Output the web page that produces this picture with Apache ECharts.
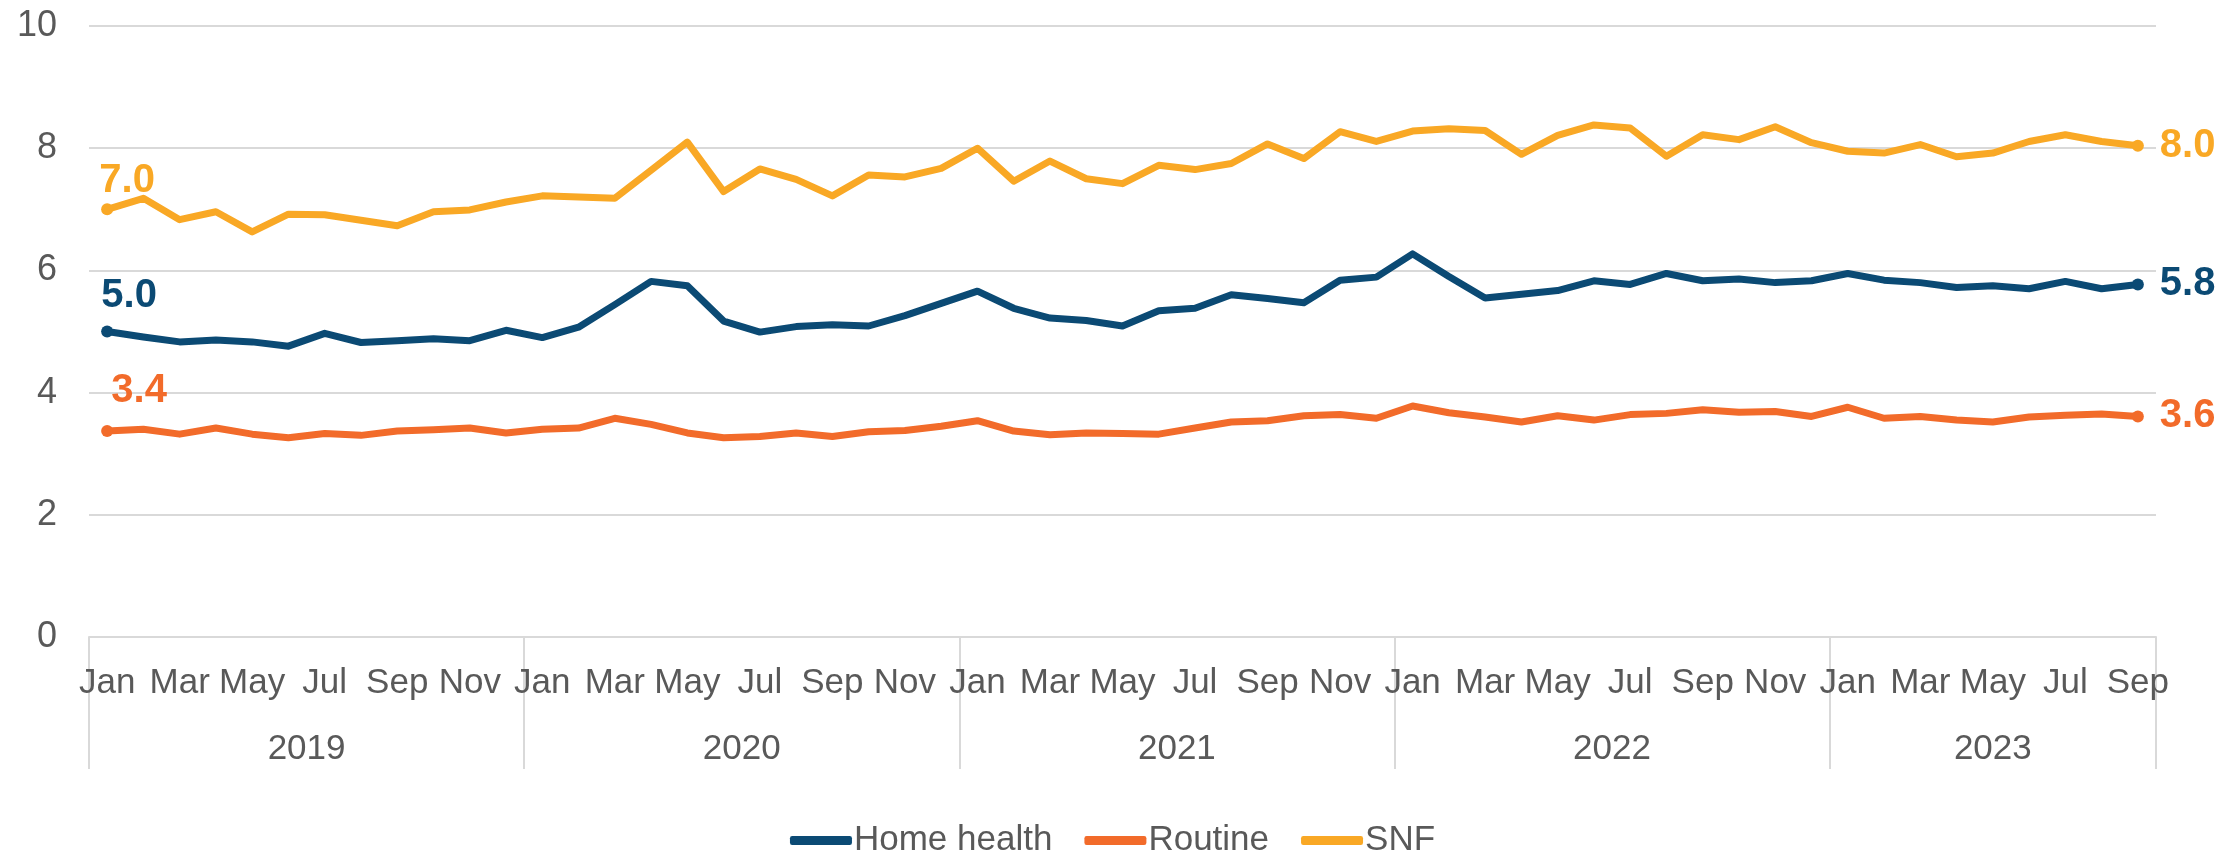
<!DOCTYPE html>
<html>
<head>
<meta charset="utf-8">
<script src="https://cdn.jsdelivr.net/npm/echarts@6/dist/echarts.min.js"></script>
<style>
  html, body { margin: 0; padding: 0; background: #fff; }
  #chart { width: 2225px; height: 857px; }
</style>
</head>
<body>
<div id="chart"></div>
<script>
// 資料區
const monthNames = ['Jan', 'Feb', 'Mar', 'Apr', 'May', 'Jun', 'Jul', 'Aug', 'Sep', 'Oct', 'Nov', 'Dec'];
const years = ['2019', '2020', '2021', '2022', '2023'];
const yearMonths = [12, 12, 12, 12, 9];

const homeHealth = [
    5.00, 4.91, 4.83, 4.86, 4.83, 4.76, 4.97, 4.82, 4.85, 4.88, 4.85, 5.02,
    4.90, 5.07, 5.44, 5.82, 5.75, 5.17, 4.99, 5.08, 5.11, 5.09, 5.26, 5.46,
    5.66, 5.38, 5.22, 5.18, 5.09, 5.34, 5.38, 5.60, 5.54, 5.47, 5.84, 5.89,
    6.27, 5.90, 5.55, 5.61, 5.67, 5.83, 5.77, 5.95, 5.83, 5.86, 5.80, 5.83,
    5.95, 5.84, 5.80, 5.72, 5.75, 5.70, 5.82, 5.70, 5.77
];
const routine = [
    3.37, 3.40, 3.32, 3.42, 3.32, 3.26, 3.33, 3.30, 3.37, 3.39, 3.42, 3.34,
    3.40, 3.42, 3.58, 3.48, 3.34, 3.26, 3.28, 3.34, 3.28, 3.36, 3.38, 3.45,
    3.54, 3.37, 3.31, 3.34, 3.33, 3.32, 3.42, 3.52, 3.54, 3.62, 3.64, 3.58,
    3.78, 3.67, 3.60, 3.52, 3.62, 3.55, 3.64, 3.66, 3.72, 3.68, 3.69, 3.61,
    3.76, 3.58, 3.61, 3.55, 3.52, 3.60, 3.63, 3.65, 3.61
];
const snf = [
    7.00, 7.18, 6.83, 6.96, 6.63, 6.92, 6.91, 6.82, 6.73, 6.96, 6.99, 7.12,
    7.22, 7.20, 7.18, 7.64, 8.10, 7.29, 7.66, 7.49, 7.22, 7.56, 7.53, 7.67,
    8.00, 7.46, 7.79, 7.50, 7.42, 7.72, 7.65, 7.75, 8.07, 7.83, 8.27, 8.11,
    8.28, 8.32, 8.29, 7.90, 8.21, 8.38, 8.33, 7.87, 8.22, 8.14, 8.35, 8.09,
    7.95, 7.92, 8.06, 7.86, 7.92, 8.11, 8.22, 8.11, 8.04
];

// 類別軸：每個月一格
const months = [];
yearMonths.forEach(n => {
    for (let m = 0; m < n; m++) months.push(monthNames[m]);
});

// 年份分隔線與年份標籤位置
const yearBounds = [0];
yearMonths.forEach(n => yearBounds.push(yearBounds[yearBounds.length - 1] + n));
const yearCenters = years.map((y, i) => (yearBounds[i] + yearBounds[i + 1]) / 2);

const FONT = "'Liberation Sans', Arial, sans-serif";
const TEXT = '#595959';
const GRID = '#D9D9D9';

function buildData(values, color, firstOffset) {
    const last = values.length - 1;
    return values.map((v, i) => {
        if (i === 0) {
            return {
                value: v,
                label: { show: true, position: 'top', distance: 6, offset: firstOffset, color: color }
            };
        }
        if (i === last) {
            return {
                value: v,
                label: { show: true, position: 'right', distance: 16, color: color }
            };
        }
        return v;
    });
}

function makeSeries(name, values, color, firstOffset) {
    const last = values.length - 1;
    return {
        name: name,
        type: 'line',
        xAxisIndex: 0,
        data: buildData(values, color, firstOffset),
        showSymbol: true,
        symbol: 'circle',
        symbolSize: (val, params) => (params.dataIndex === 0 || params.dataIndex === last) ? 12 : 0,
        lineStyle: { color: color, width: 7, join: 'round' },
        itemStyle: { color: color },
        label: {
            show: false,
            fontFamily: FONT,
            fontSize: 40,
            fontWeight: 'bold',
            formatter: p => Number(p.value).toFixed(1)
        },
        emphasis: { disabled: true },
        animation: false
    };
}

const chart = echarts.init(document.getElementById('chart'));

const option = {
    animation: false,
    grid: { left: 89, right: 69, top: 26, bottom: 220, containLabel: false },
    legend: {
        bottom: -6,
        left: 'center',
        itemWidth: 62,
        itemHeight: 9,
        itemGap: 32,
        icon: 'roundRect',
        textStyle: { fontFamily: FONT, fontSize: 35, color: TEXT, padding: [0, 0, 0, -3] },
        data: ['Home health', 'Routine', 'SNF']
    },
    xAxis: [
        {
            type: 'category',
            data: months,
            boundaryGap: true,
            axisLine: { show: true, lineStyle: { color: GRID, width: 2 } },
            axisTick: { show: false },
            axisLabel: {
                interval: 1,
                margin: 29,
                fontFamily: FONT,
                fontSize: 35,
                color: TEXT
            },
            splitLine: { show: false }
        },
        {
            type: 'value',
            position: 'bottom',
            min: 0,
            max: yearBounds[yearBounds.length - 1],
            axisLine: { show: false },
            axisTick: {
                show: true,
                customValues: yearBounds,
                length: 132,
                lineStyle: { color: GRID, width: 2 }
            },
            axisLabel: {
                customValues: yearCenters,
                margin: 95,
                fontFamily: FONT,
                fontSize: 35,
                color: TEXT,
                formatter: v => years[yearCenters.indexOf(v)] || ''
            },
            splitLine: { show: false }
        }
    ],
    yAxis: {
        type: 'value',
        min: 0,
        max: 10,
        interval: 2,
        axisLine: { show: false },
        axisTick: { show: false },
        axisLabel: { margin: 32, fontFamily: FONT, fontSize: 36, color: TEXT },
        splitLine: { lineStyle: { color: GRID, width: 2 } }
    },
    series: [
        makeSeries('Home health', homeHealth, '#0B4A74', [22, -4]),
        makeSeries('Routine', routine, '#F26B2A', [32, -8]),
        makeSeries('SNF', snf, '#F9A825', [20, 4])
    ]
};

chart.setOption(option);
</script>
</body>
</html>
